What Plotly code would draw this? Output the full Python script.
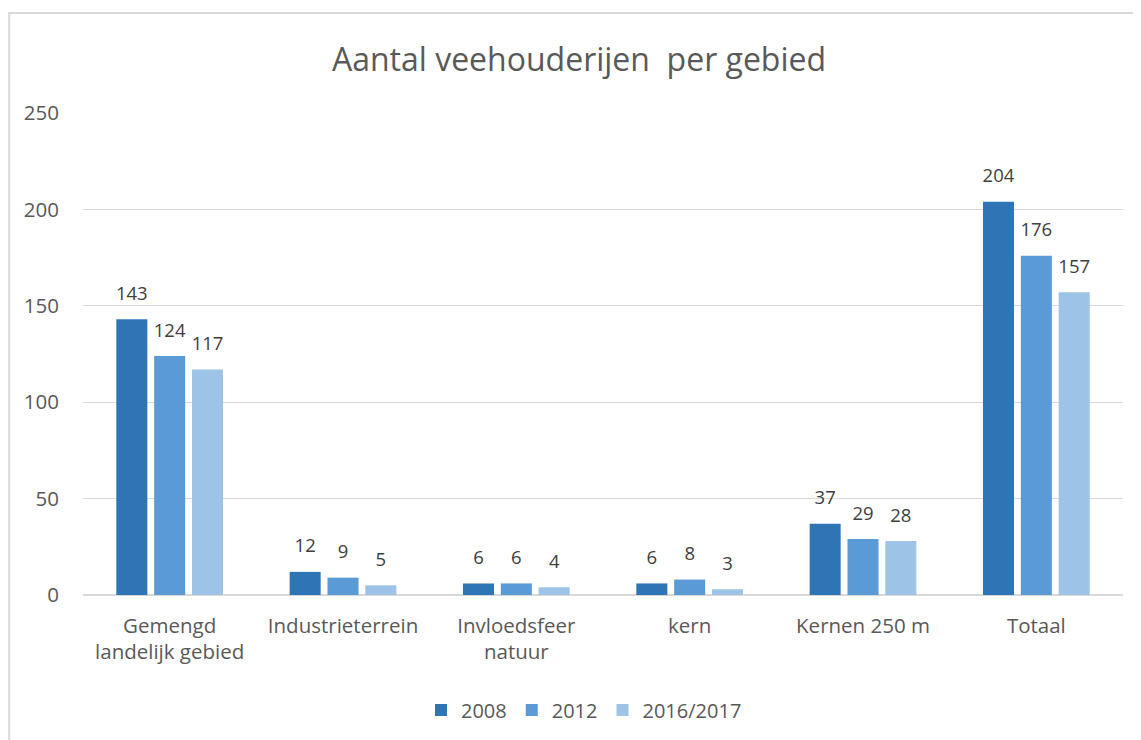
import plotly.graph_objects as go

categories = ["Gemengd<br>landelijk gebied", "Industrieterrein", "Invloedsfeer<br>natuur",
              "kern", "Kernen 250 m", "Totaal"]
series_names = ["2008", "2012", "2016/2017"]
values_2008 = [143, 12, 6, 6, 37, 204]
values_2012 = [124, 9, 6, 8, 29, 176]
values_2016 = [117, 5, 4, 3, 28, 157]
tick_values = [0, 50, 100, 150, 200, 250]

colors = ["#2e75b6", "#5b9bd5", "#9dc3e6"]
font_family = "'Open Sans', Lato, sans-serif"

BAR_GAP = 0.345
BAR_GROUP_GAP = 0.18

fig = go.Figure()
all_vals = [values_2008, values_2012, values_2016]
for name, vals, col in zip(series_names, all_vals, colors):
    fig.add_trace(go.Bar(
        x=categories, y=vals, name=name,
        marker=dict(color=col, line=dict(width=0)),
        hoverinfo="x+y+name",
    ))
# data labels as grouped scatter text, sitting a bit higher above the bars
for name, vals in zip(series_names, all_vals):
    fig.add_trace(go.Scatter(
        x=categories, y=vals, mode="markers+text", showlegend=False,
        text=[str(v) for v in vals], textposition="top center",
        textfont=dict(size=18.5, color="#404040", family=font_family),
        marker=dict(size=22, color="rgba(0,0,0,0)"),
        cliponaxis=False, hoverinfo="skip", name=name,
    ))

OFF = 8  # browser body margin
W, H = 1141 - OFF, 740 - OFF
ml = 83 - OFF
mr = W - (1123 - OFF)
mt = 113 - OFF
mb = H - (595 - OFF)
pw, ph = W - ml - mr, H - mt - mb

def px_x(p):
    return (p - OFF - ml) / pw

def px_y(p):
    return (H - mb - (p - OFF)) / ph

fig.update_layout(
    width=W, height=H,
    margin=dict(l=ml, r=mr, t=mt, b=mb, autoexpand=False),
    paper_bgcolor="white", plot_bgcolor="white",
    barmode="group", bargap=BAR_GAP, bargroupgap=BAR_GROUP_GAP,
    scattermode="group", scattergap=BAR_GAP,
    title=dict(text="Aantal veehouderijen  per gebied", x=(579 - OFF) / W,
               xanchor="center", y=1 - (60 - OFF) / H, yanchor="middle", yref="container",
               font=dict(size=32, color="#595959", family=font_family)),
    font=dict(family=font_family, color="#595959"),
    showlegend=True,
    legend=dict(orientation="h", x=px_x(584), xanchor="center", y=px_y(710), yanchor="middle",
                font=dict(size=20, color="#595959"), traceorder="normal",
                itemwidth=30),
    xaxis=dict(showgrid=False, showline=False, ticks="", ticklabelstandoff=16,
               tickfont=dict(size=20.5, color="#595959")),
    yaxis=dict(range=[0, 250], tickvals=tick_values, showgrid=True, gridcolor="#d9d9d9",
               gridwidth=1, zeroline=True, zerolinecolor="#d9d9d9", zerolinewidth=1.5,
               showline=False, ticks="", ticklabelstandoff=23,
               tickfont=dict(size=20.5, color="#595959")),
    shapes=[dict(type="rect", xref="paper", yref="paper",
                 x0=px_x(9.2), x1=px_x(1170), y0=px_y(13), y1=px_y(770),
                 line=dict(color="#d9d9d9", width=2), fillcolor="rgba(0,0,0,0)", layer="below")],
)

fig.write_html("out.html")
